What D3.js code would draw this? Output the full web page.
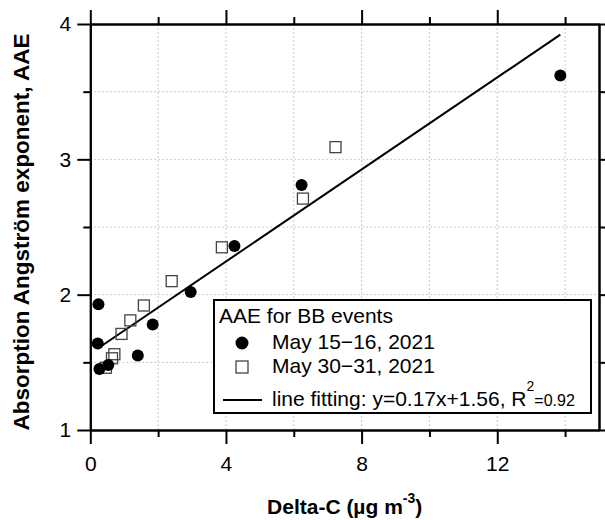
<!DOCTYPE html>
<html lang="en">

<head>
  <meta charset="UTF-8">
  <title>AAE vs Delta-C</title>
  <script src="https://d3js.org/d3.v7.min.js"></script>
  <style>
    body { margin: 0; background: #fff; }
    text { font-family: "Liberation Sans", Arial, sans-serif; fill: #000; }
  </style>
</head>

<body>
  <script>
    // data
    const may15X = [13.86, 6.23, 4.25, 2.96, 0.24, 1.84, 0.22, 1.40, 0.53, 0.27];
    const may15Y = [3.62, 2.81, 2.36, 2.02, 1.93, 1.78, 1.64, 1.55, 1.48, 1.45];
    const may30X = [7.23, 6.27, 3.88, 2.40, 1.58, 1.18, 0.92, 0.71, 0.64, 0.46];
    const may30Y = [3.09, 2.71, 2.35, 2.10, 1.92, 1.81, 1.71, 1.56, 1.53, 1.46];

    const fitSlope = 0.17;
    const fitIntercept = 1.565;

    const xMajor = [0, 4, 8, 12];
    const xMinor = [2, 6, 10, 14];
    const yMajor = [1, 2, 3, 4];
    const yMinor = [1.5, 2.5, 3.5];

    const w = 605;
    const h = 520;
    const pLeft = 90.3, pRight = 599, pTop = 24, pBottom = 430;

    const xScale = d3.scaleLinear().domain([0, 15]).range([pLeft, pRight]);
    const yScale = d3.scaleLinear().domain([1, 4]).range([pBottom, pTop]);

    const svg = d3.select('body')
      .append('svg')
      .attr('width', w)
      .attr('height', h)

    // dotted grid
    const grid = svg.append('g')
      .attr('stroke', '#c8c8c8')
      .attr('stroke-width', 1)
      .attr('stroke-dasharray', '2,2')
    grid.selectAll('.gx')
      .data(xMajor.concat(xMinor).filter(d => d > 0))
      .enter()
      .append('line')
      .attr('x1', d => xScale(d)).attr('x2', d => xScale(d))
      .attr('y1', pTop).attr('y2', pBottom)
    grid.selectAll('.gy')
      .data(yMajor.concat(yMinor).filter(d => d > 1 && d < 4))
      .enter()
      .append('line')
      .attr('x1', pLeft).attr('x2', pRight)
      .attr('y1', d => yScale(d)).attr('y2', d => yScale(d))

    // axes
    const styleAxis = g => {
      g.selectAll('path').attr('stroke', '#000').attr('stroke-width', 2)
      g.selectAll('line').attr('stroke', '#000').attr('stroke-width', 2)
      g.selectAll('text').attr('font-size', 21).attr('fill', '#000')
        .style('font-family', '"Liberation Sans", Arial, sans-serif')
    }

    svg.append('g')
      .attr('transform', `translate(0,${pBottom})`)
      .call(d3.axisBottom(xScale).tickValues(xMajor).tickSize(14).tickSizeOuter(0).tickPadding(12).tickFormat(d3.format('d')))
      .call(styleAxis)
    svg.append('g')
      .attr('transform', `translate(0,${pBottom})`)
      .call(d3.axisBottom(xScale).tickValues(xMinor).tickSize(7).tickSizeOuter(0).tickFormat(''))
      .call(styleAxis)
    svg.append('g')
      .attr('transform', `translate(0,${pTop})`)
      .call(d3.axisTop(xScale).tickValues(xMajor).tickSize(14).tickSizeOuter(0).tickFormat(''))
      .call(styleAxis)
    svg.append('g')
      .attr('transform', `translate(0,${pTop})`)
      .call(d3.axisTop(xScale).tickValues(xMinor).tickSize(7).tickSizeOuter(0).tickFormat(''))
      .call(styleAxis)

    svg.append('g')
      .attr('transform', `translate(${pLeft},0)`)
      .call(d3.axisLeft(yScale).tickValues(yMajor).tickSize(13).tickSizeOuter(0).tickPadding(6).tickFormat(d3.format('d')))
      .call(styleAxis)
    svg.append('g')
      .attr('transform', `translate(${pLeft},0)`)
      .call(d3.axisLeft(yScale).tickValues(yMinor).tickSize(7).tickSizeOuter(0).tickFormat(''))
      .call(styleAxis)
    svg.append('g')
      .attr('transform', `translate(${pRight},0)`)
      .call(d3.axisRight(yScale).tickValues(yMajor).tickSize(13).tickSizeOuter(0).tickFormat(''))
      .call(styleAxis)
    svg.append('g')
      .attr('transform', `translate(${pRight},0)`)
      .call(d3.axisRight(yScale).tickValues(yMinor).tickSize(7).tickSizeOuter(0).tickFormat(''))
      .call(styleAxis)

    // fit line over the data range
    const allX = may15X.concat(may30X)
    const fitX = [d3.min(allX), d3.max(allX)]
    svg.append('path')
      .datum(fitX)
      .attr('fill', 'none')
      .attr('stroke', '#000')
      .attr('stroke-width', 2)
      .attr('d', d3.line().x(d => xScale(d)).y(d => yScale(fitSlope * d + fitIntercept)))

    // May 30-31 squares
    const sq = 11
    svg.selectAll('.sq')
      .data(d3.zip(may30X, may30Y))
      .enter()
      .append('rect')
      .attr('x', d => xScale(d[0]) - sq / 2)
      .attr('y', d => yScale(d[1]) - sq / 2)
      .attr('width', sq)
      .attr('height', sq)
      .attr('fill', 'none')
      .attr('stroke', '#444')
      .attr('stroke-width', 1.3)

    // May 15-16 circles
    svg.selectAll('.dot')
      .data(d3.zip(may15X, may15Y))
      .enter()
      .append('circle')
      .attr('cx', d => xScale(d[0]))
      .attr('cy', d => yScale(d[1]))
      .attr('r', 6)
      .attr('fill', '#000')

    // legend
    const lg = svg.append('g')
    lg.append('rect')
      .attr('x', 214).attr('y', 300)
      .attr('width', 377).attr('height', 113)
      .attr('fill', '#fff')
      .attr('stroke', '#000')
      .attr('stroke-width', 2)
    lg.append('text').attr('x', 219).attr('y', 323).attr('font-size', 21).text('AAE for BB events')
    lg.append('circle').attr('cx', 242).attr('cy', 343).attr('r', 6.5).attr('fill', '#000')
    lg.append('text').attr('x', 272).attr('y', 349).attr('font-size', 21).text('May 15\u221216, 2021')
    lg.append('rect').attr('x', 236).attr('y', 361).attr('width', 12).attr('height', 12)
      .attr('fill', '#fff').attr('stroke', '#444').attr('stroke-width', 1.3)
    lg.append('text').attr('x', 272).attr('y', 373).attr('font-size', 21).text('May 30\u221231, 2021')
    lg.append('line').attr('x1', 223).attr('x2', 262).attr('y1', 400).attr('y2', 400)
      .attr('stroke', '#000').attr('stroke-width', 2)
    const fitText = lg.append('text').attr('x', 272).attr('y', 405.5).attr('font-size', 21)
    fitText.append('tspan').text('line fitting: y=0.17x+1.56, R')
    fitText.append('tspan').attr('font-size', 14).attr('dy', -15).text('2')
    fitText.append('tspan').attr('font-size', 16).attr('dy', 15).text('=0.92')

    // axis titles
    const xt = svg.append('text')
      .attr('x', (pLeft + pRight) / 2)
      .attr('y', 514)
      .attr('text-anchor', 'middle')
      .attr('font-size', 21)
      .attr('font-weight', 'bold')
    xt.append('tspan').text('Delta-C (\u00b5g m')
    xt.append('tspan').attr('font-size', 14).attr('dy', -11).text('-3')
    xt.append('tspan').attr('dy', 11).text(')')

    svg.append('text')
      .attr('transform', `translate(29,${(pTop + pBottom) / 2 + 5}) rotate(-90)`)
      .attr('text-anchor', 'middle')
      .attr('font-size', 22.5)
      .attr('font-weight', 'bold')
      .text('Absorption Angstr\u00f6m exponent, AAE')
  </script>
</body>

</html>
